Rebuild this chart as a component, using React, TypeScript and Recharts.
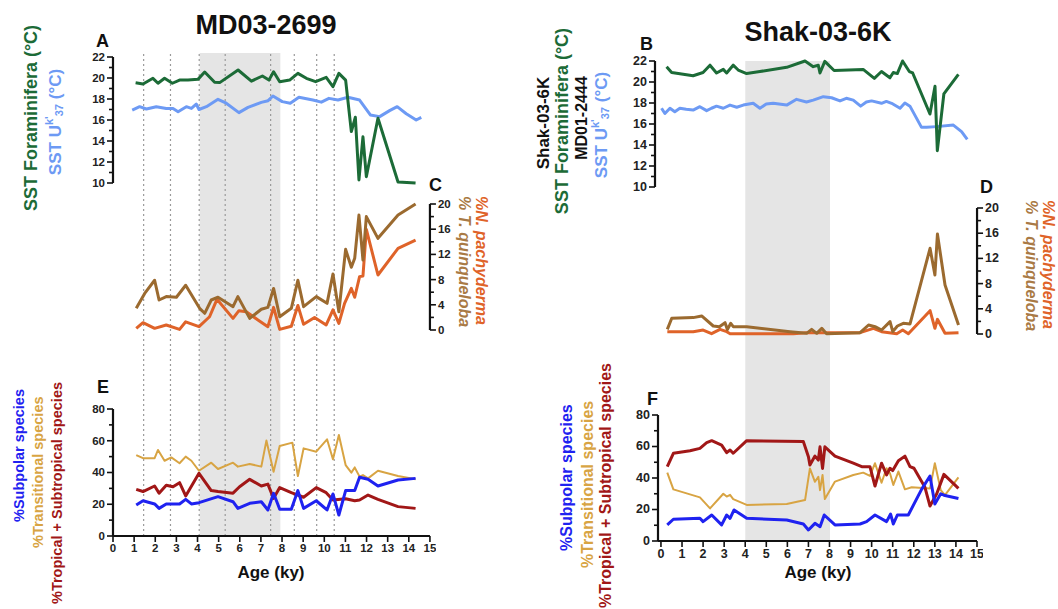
import React from 'react';
import { LineChart, Line, XAxis, YAxis, ReferenceArea, ReferenceLine } from 'recharts';

const FONT = '"Liberation Sans", Arial, Helvetica, sans-serif';

// ---------------- DATA ----------------
// MD03-2699 (left column)
const mdForamAge = [1.07, 1.42, 1.89, 2.13, 2.44, 2.81, 3.15, 3.55, 4.02, 4.34, 4.81, 5.05, 5.92, 6.55, 7.07, 7.38, 7.6, 7.89, 8.36, 8.75, 9.15, 9.59, 10.09, 10.41, 10.69, 11.01, 11.28, 11.47, 11.64, 11.83, 11.99, 12.54, 13.49, 14.32];
const mdForamSst = [19.55, 19.43, 19.97, 19.5, 19.97, 19.5, 19.8, 19.8, 19.87, 20.57, 19.59, 19.56, 20.76, 19.7, 20.19, 19.8, 20.6, 19.65, 19.8, 20.44, 19.97, 19.65, 20.06, 19.17, 20.44, 19.8, 14.9, 16.26, 10.29, 14.4, 10.6, 16.16, 10.1, 10.0];
const mdUkAge = [0.91, 1.26, 1.58, 2.05, 2.52, 2.84, 3.08, 3.47, 3.71, 3.94, 4.07, 4.42, 4.97, 5.36, 5.96, 6.39, 7.02, 7.34, 7.57, 8.01, 8.39, 8.8, 9.46, 9.86, 10.22, 10.65, 11.12, 11.67, 12.18, 12.62, 13.09, 13.45, 13.88, 14.35, 14.59];
const mdUkSst = [16.95, 17.27, 17.05, 17.27, 17.1, 17.1, 16.79, 17.27, 17.1, 17.52, 17.0, 17.27, 17.97, 17.6, 16.7, 17.2, 17.68, 17.84, 18.29, 17.75, 17.6, 18.16, 17.9, 17.7, 18.06, 17.9, 18.16, 17.9, 16.48, 16.32, 16.89, 17.27, 16.6, 16.0, 16.25];
const mdTquinAge = [1.1, 1.5, 1.97, 2.18, 2.52, 3.0, 3.44, 4.1, 4.34, 4.65, 4.97, 5.68, 5.91, 6.47, 7.02, 7.33, 7.6, 7.89, 8.44, 8.75, 9.02, 9.62, 10.13, 10.41, 10.69, 11.01, 11.28, 11.44, 11.64, 11.83, 11.99, 12.54, 13.49, 14.32];
const mdTquin = [3.44, 5.8, 7.9, 4.76, 5.3, 5.2, 7.1, 3.44, 2.65, 4.76, 5.2, 3.7, 5.3, 1.85, 3.3, 3.6, 6.6, 2.1, 3.44, 7.9, 3.7, 5.3, 4.23, 8.9, 2.9, 12.8, 9.95, 11.4, 18.25, 11.1, 18.0, 14.55, 18.25, 20.0];
const mdNpachAge = [1.1, 1.42, 1.97, 2.52, 3.15, 3.44, 4.07, 4.57, 4.92, 5.68, 5.96, 6.31, 6.86, 7.33, 7.6, 7.89, 8.44, 8.75, 9.02, 9.54, 10.09, 10.41, 10.69, 10.96, 11.28, 11.44, 11.67, 11.83, 11.99, 12.54, 13.49, 14.32];
const mdNpach = [0.26, 1.16, 0.26, 0.8, 0.1, 1.3, 0.53, 2.1, 4.87, 1.85, 3.07, 2.9, 1.6, 0.53, 3.6, 0.1, 0.6, 3.9, 0.9, 2.0, 0.8, 3.2, 1.06, 4.23, 6.6, 5.2, 8.47, 8.57, 15.97, 8.73, 12.96, 14.28];
const mdTransAge = [1.1, 1.42, 1.97, 2.13, 2.44, 2.76, 3.15, 3.44, 3.71, 4.07, 4.65, 4.97, 5.68, 5.91, 6.47, 7.02, 7.26, 7.6, 7.89, 8.49, 8.75, 9.02, 9.62, 10.13, 10.41, 10.69, 11.01, 11.28, 11.44, 11.67, 11.83, 12.07, 12.54, 13.49, 14.32];
const mdTrans = [51.0, 49, 49, 54.2, 47.4, 49.5, 45.8, 50, 47.4, 41.1, 46.2, 42.2, 46.2, 43.7, 45.4, 43.7, 60.1, 40.5, 56.7, 58.8, 37.8, 55.2, 53.1, 60.9, 48.3, 63.6, 44.7, 39.9, 43.2, 37.4, 38.4, 36.3, 41.1, 37.8, 35.7];
const mdTropAge = [1.1, 1.42, 1.97, 2.18, 2.52, 2.84, 3.15, 3.44, 4.07, 4.65, 4.97, 5.68, 5.99, 6.47, 7.02, 7.33, 7.6, 7.89, 8.44, 9.02, 9.62, 10.09, 10.41, 11.01, 11.44, 11.67, 12.07, 12.54, 13.49, 14.32];
const mdTrop = [29.4, 28, 31.5, 27, 32, 31, 33.6, 25.2, 39.5, 28.6, 28, 27, 31, 35.7, 31.5, 32.7, 23.7, 30.5, 27.3, 24.4, 30.5, 27.3, 22.7, 23.5, 22.2, 22.7, 25.8, 23.1, 18.5, 17.4];
const mdSubpAge = [1.1, 1.42, 1.97, 2.18, 2.52, 3.15, 3.44, 3.71, 4.07, 4.97, 5.68, 5.91, 6.47, 7.02, 7.33, 7.6, 7.89, 8.44, 8.75, 9.02, 9.62, 10.13, 10.41, 10.69, 11.01, 11.44, 11.67, 12.07, 12.54, 13.49, 14.32];
const mdSubp = [19.5, 22.2, 20.2, 17.4, 20.2, 20.2, 23.1, 20.2, 21, 24.8, 21.6, 17.4, 20.6, 21.6, 16.4, 26.9, 16.8, 16.8, 28.6, 17.4, 22.2, 16.4, 26.5, 13.2, 28.6, 28.6, 37, 35.7, 31.5, 35.3, 36.3];
const mdDashedAges = [1.45, 2.72, 4.08, 5.31, 7.46, 8.58, 9.64, 10.47];
const mdBand = [4.1, 7.92];

// Shak-03-6K / MD01-2444 (right column)
const shForamAge = [0.27, 0.51, 1.53, 2.0, 2.33, 2.64, 2.96, 3.12, 3.43, 3.67, 4.07, 4.7, 5.97, 6.84, 7.23, 7.47, 7.55, 7.78, 8.22, 9.6, 10.13, 10.47, 10.87, 11.03, 11.22, 11.47, 11.79, 11.95, 12.77, 13.01, 13.12, 13.43, 14.12];
const shForamSst = [21.46, 20.9, 20.6, 20.9, 21.6, 20.86, 21.2, 20.86, 21.6, 21.14, 20.8, 21.0, 21.4, 22.0, 21.46, 21.6, 20.86, 21.97, 21.1, 21.2, 20.35, 21.0, 20.4, 20.9, 20.8, 22.0, 21.0, 20.86, 16.95, 19.6, 13.46, 18.86, 20.73];
const shUkAge = [0.03, 0.19, 0.43, 0.66, 0.9, 1.2, 1.53, 1.85, 2.17, 2.4, 2.64, 2.96, 3.28, 3.6, 3.91, 4.38, 4.7, 5.0, 5.33, 5.97, 6.44, 6.91, 7.23, 7.71, 8.1, 8.5, 8.8, 9.13, 9.48, 9.75, 10.0, 10.47, 10.7, 10.95, 11.35, 11.58, 11.82, 12.37, 12.61, 13.09, 13.88, 14.27, 14.54];
const shUkSst = [17.5, 17.0, 17.5, 17.17, 17.5, 17.4, 17.33, 17.65, 17.27, 17.5, 17.7, 17.5, 17.8, 17.6, 17.8, 17.97, 17.5, 17.9, 17.97, 17.8, 18.35, 18.1, 18.27, 18.6, 18.5, 18.2, 18.45, 18.27, 17.7, 18.1, 18.2, 17.97, 18.15, 17.97, 17.5, 18.0, 17.7, 15.68, 15.68, 15.75, 15.9, 15.27, 14.54];
const shTquinAge = [0.3, 0.51, 1.53, 1.93, 2.48, 2.77, 3.04, 3.15, 3.31, 3.43, 4.07, 6.12, 6.91, 7.15, 7.39, 7.63, 7.86, 9.45, 9.85, 10.16, 10.47, 10.87, 11.0, 11.22, 11.5, 11.82, 12.77, 13.0, 13.12, 13.48, 14.12];
const shTquin = [0.74, 2.49, 2.6, 2.86, 1.27, 1.16, 1.8, 0.7, 1.7, 1.16, 1.16, 0.37, 0.11, 0.74, 0.11, 0.9, 0.05, 0.21, 1.43, 1.16, 0.63, 1.96, 0.37, 1.27, 1.7, 1.6, 13.6, 9.37, 15.87, 7.78, 1.43];
const shNpachAge = [0.3, 1.53, 2.0, 2.4, 2.8, 3.12, 3.28, 6.28, 6.91, 7.86, 9.45, 10.08, 10.47, 11.19, 11.47, 11.74, 12.77, 13.0, 13.12, 13.48, 14.12];
const shNpach = [0.37, 0.37, 0.63, 0.05, 0.74, 0.37, 0.05, 0.05, 0.21, 0.21, 0.21, 0.9, 0.37, 0.05, 0.63, 0.05, 3.7, 0.9, 2.33, 0.11, 0.21];
const shTropAge = [0.3, 0.59, 1.38, 1.85, 2.17, 2.41, 2.88, 3.12, 3.28, 3.43, 4.07, 6.76, 7.0, 7.07, 7.31, 7.47, 7.55, 7.67, 7.78, 8.26, 9.13, 9.53, 9.92, 10.16, 10.47, 10.71, 10.87, 11.0, 11.27, 11.58, 11.82, 12.01, 12.53, 12.77, 13.09, 13.43, 14.12];
const shTrop = [47.2, 55.7, 57.3, 58.8, 62.4, 63.7, 60.9, 56.1, 57.8, 55.7, 63.7, 63.1, 53.5, 48.3, 53.9, 51.4, 59.8, 46.1, 59.8, 53.9, 49.4, 47.2, 47.2, 34.9, 49.4, 42, 46.2, 44.7, 51, 53.9, 47.2, 46.2, 34.1, 22.2, 30, 42.3, 33.4];
const shTransAge = [0.3, 0.59, 1.85, 2.33, 2.96, 3.12, 3.28, 3.43, 4.07, 5.97, 6.84, 7.07, 7.31, 7.47, 7.55, 7.67, 7.78, 8.26, 9.13, 9.6, 9.92, 10.16, 10.47, 10.71, 10.87, 11.03, 11.27, 11.58, 11.9, 12.77, 13.0, 13.28, 13.48, 14.12];
const shTrans = [43.4, 32.8, 27.7, 20.7, 30, 28.2, 29.3, 26.6, 22.9, 23.5, 26, 46.1, 37.6, 40.8, 32.3, 41.9, 26.6, 37.7, 41.9, 43.4, 41.3, 49.4, 37, 46.2, 43, 35.6, 44.1, 32.8, 34.1, 33.4, 49.4, 32.3, 29.1, 40.4];
const shSubpAge = [0.3, 0.59, 1.85, 2.0, 2.41, 2.88, 3.12, 3.28, 3.47, 4.07, 5.97, 6.76, 7.0, 7.31, 7.55, 7.75, 8.26, 9.45, 9.76, 10.16, 10.71, 10.9, 11.03, 11.22, 11.74, 12.37, 12.77, 13.0, 13.28, 13.43, 14.12];
const shSubp = [10.2, 13.8, 14.4, 12.3, 16.5, 10.2, 16.5, 14.4, 19.7, 14.4, 13.3, 10.8, 7.0, 11.2, 9.1, 16.5, 10.2, 10.8, 12.3, 16.5, 12.3, 17.1, 10.8, 16.5, 16.5, 32.8, 41.3, 23.5, 30, 29.1, 27];
const shBand = [4.0, 8.02];

// Axis ticks
const ageTicks = [0, 1, 2, 3, 4, 5, 6, 7, 8, 9, 10, 11, 12, 13, 14, 15];
const sstTicks = [10, 11, 12, 13, 14, 15, 16, 17, 18, 19, 20, 21, 22];
const sstLabels = [10, 12, 14, 16, 18, 20, 22];
const pctTicks = [0, 2, 4, 6, 8, 10, 12, 14, 16, 18, 20];
const pctLabels = [0, 4, 8, 12, 16, 20];
const spTicks = [0, 10, 20, 30, 40, 50, 60, 70, 80];
const spLabels = [0, 20, 40, 60, 80];

// ---------------- STYLE ----------------
const COL = {
  green: '#1c6b37',
  sky: '#6d9af4',
  brown: '#9b6a2f',
  orange: '#df6329',
  gold: '#d8a443',
  red: '#a11717',
  blue: '#1f22f0',
  axis: '#111111',
  tick: '#222222',
};

const zip = (a: number[], b: number[]) => a.map((x, i) => ({ x, y: b[i] }));

type Series = { pts: { x: number; y: number }[]; color: string; w: number; name: string };

const makeYTick = (side: 'left' | 'right', labels: number[], fs: number) => (props: any) => {
  const { x, y, payload } = props;
  const v = payload.value;
  const major = labels.includes(v);
  const len = major ? 6 : 4;
  const dir = side === 'left' ? -1 : 1;
  return (
    <g>
      <line x1={x} y1={y} x2={x + dir * len} y2={y} stroke={COL.axis} strokeWidth={1.6} />
      {major && (
        <text
          x={x + dir * 8}
          y={y}
          textAnchor={side === 'left' ? 'end' : 'start'}
          dominantBaseline="central"
          fontSize={fs}
          fontWeight="bold"
          fill={COL.tick}
          fontFamily={FONT}
        >
          {v}
        </text>
      )}
    </g>
  );
};

const makeXTick = (fs: number) => (props: any) => {
  const { x, y, payload } = props;
  return (
    <g>
      <line x1={x} y1={y} x2={x} y2={y + 6} stroke={COL.axis} strokeWidth={1.6} />
      <text x={x} y={y + 8} textAnchor="middle" dominantBaseline="hanging" fontSize={fs} fontWeight="bold" fill={COL.tick} fontFamily={FONT}>
        {payload.value}
      </text>
    </g>
  );
};

type PanelProps = {
  x0: number; k: number; xMin: number; xMax: number;
  yTop: number; yBot: number; yMin: number; yMax: number;
  yTicks: number[]; yLabels: number[]; side: 'left' | 'right';
  showX?: boolean; series: Series[]; fs: number;
};

function Panel(p: PanelProps) {
  const AX = 40;
  const pad = 6;
  const XH = 30;
  const plotL = p.x0 + p.xMin * p.k;
  const plotR = p.x0 + p.xMax * p.k;
  const left = p.side === 'left' ? plotL - AX - pad : plotL - pad;
  const right = p.side === 'right' ? plotR + AX + pad : plotR + pad;
  const top = p.yTop - pad;
  const bottom = p.yBot + (p.showX ? XH : 0) + pad;
  return (
    <div style={{ position: 'absolute', left, top }}>
      <LineChart width={right - left} height={bottom - top} margin={{ top: pad, right: pad, bottom: pad, left: pad }}>
        <XAxis
          type="number"
          dataKey="x"
          domain={[p.xMin, p.xMax]}
          ticks={ageTicks}
          interval={0}
          hide={!p.showX}
          height={XH}
          tickLine={false}
          tickSize={0}
          tickMargin={0}
          tick={makeXTick(p.fs)}
          axisLine={{ stroke: COL.axis, strokeWidth: 2.2 }}
        />
        <YAxis
          type="number"
          orientation={p.side}
          width={AX}
          domain={[p.yMin, p.yMax]}
          ticks={p.yTicks}
          interval={0}
          tickLine={false}
          tickSize={0}
          tickMargin={0}
          tick={makeYTick(p.side, p.yLabels, p.fs)}
          axisLine={{ stroke: COL.axis, strokeWidth: 2.2 }}
        />
        {p.series.map((s) => (
          <Line
            key={s.name}
            name={s.name}
            data={s.pts}
            dataKey="y"
            type="linear"
            stroke={s.color}
            strokeWidth={s.w}
            strokeLinejoin="round"
            dot={false}
            activeDot={false}
            isAnimationActive={false}
          />
        ))}
      </LineChart>
    </div>
  );
}

function Backdrop(p: { x0: number; k: number; yTop: number; yBot: number; band: number[]; dashes: number[] }) {
  const left = p.x0;
  const width = 15 * p.k;
  return (
    <div style={{ position: 'absolute', left, top: p.yTop }}>
      <LineChart width={width} height={p.yBot - p.yTop} margin={{ top: 0, right: 0, bottom: 0, left: 0 }}>
        <XAxis type="number" dataKey="x" domain={[0, 15]} hide />
        <YAxis type="number" domain={[0, 1]} hide />
        <ReferenceArea x1={p.band[0]} x2={p.band[1]} fill="#e5e5e5" fillOpacity={1} stroke="none" />
        {p.dashes.map((d) => (
          <ReferenceLine key={d} x={d} stroke="#9a9a9a" strokeWidth={1.2} strokeDasharray="2 3" />
        ))}
        <Line data={[{ x: 0, y: 0 }, { x: 15, y: 1 }]} dataKey="y" stroke="none" dot={false} activeDot={false} isAnimationActive={false} />
      </LineChart>
    </div>
  );
}

const T = (props: any) => {
  const { x, y, rot = 0, anchor = 'middle', size = 14, color = '#111', children, baseline = 'central', italic } = props;
  return (
    <text
      x={x}
      y={y}
      transform={rot ? `rotate(${rot} ${x} ${y})` : undefined}
      textAnchor={anchor}
      dominantBaseline={baseline}
      fontSize={size}
      fontWeight="bold"
      fontStyle={italic ? 'italic' : 'normal'}
      fill={color}
      fontFamily={FONT}
    >
      {children}
    </text>
  );
};

const UkLabel = ({ x, y, size = 16 }: { x: number; y: number; size?: number }) => (
  <text x={x} y={y} transform={`rotate(-90 ${x} ${y})`} textAnchor="middle" dominantBaseline="central" fontSize={size} fontWeight="bold" fill={COL.sky} fontFamily={FONT}>
    SST U
    <tspan fontSize={size * 0.65} dy={-6}>k'</tspan>
    <tspan fontSize={size * 0.65} dy={10}>37</tspan>
    <tspan dy={-4}> (°C)</tspan>
  </text>
);

export default function App() {
  const L = { x0: 113, k: 21.13 };
  const R = { x0: 661, k: 21.07 };
  return (
    <div style={{ position: 'absolute', left: 0, top: 0, width: 1058, height: 609, background: '#fff', overflow: 'hidden', fontFamily: FONT }}>
      <Backdrop x0={L.x0} k={L.k} yTop={53} yBot={536} band={mdBand} dashes={mdDashedAges} />
      <Backdrop x0={R.x0} k={R.k} yTop={61} yBot={541} band={shBand} dashes={[]} />

      {/* A */}
      <Panel {...L} xMin={0} xMax={15} yTop={57} yBot={183} yMin={10} yMax={22} yTicks={sstTicks} yLabels={sstLabels} side="left" fs={11.5}
        series={[
          { name: 'mdUk', pts: zip(mdUkAge, mdUkSst), color: COL.sky, w: 3 },
          { name: 'mdForam', pts: zip(mdForamAge, mdForamSst), color: COL.green, w: 3 },
        ]} />
      {/* C */}
      <Panel {...L} xMin={0} xMax={15} yTop={204} yBot={330} yMin={0} yMax={20} yTicks={pctTicks} yLabels={pctLabels} side="right" fs={11.5}
        series={[
          { name: 'mdNpach', pts: zip(mdNpachAge, mdNpach), color: COL.orange, w: 3 },
          { name: 'mdTquin', pts: zip(mdTquinAge, mdTquin), color: COL.brown, w: 3 },
        ]} />
      {/* E */}
      <Panel {...L} xMin={0} xMax={15} yTop={409} yBot={536} yMin={0} yMax={80} yTicks={spTicks} yLabels={spLabels} side="left" showX fs={11.5}
        series={[
          { name: 'mdTrans', pts: zip(mdTransAge, mdTrans), color: COL.gold, w: 2 },
          { name: 'mdTrop', pts: zip(mdTropAge, mdTrop), color: COL.red, w: 3 },
          { name: 'mdSubp', pts: zip(mdSubpAge, mdSubp), color: COL.blue, w: 3 },
        ]} />

      {/* B */}
      <Panel {...R} xMin={-0.28} xMax={15} yTop={61} yBot={187} yMin={10} yMax={22} yTicks={sstTicks} yLabels={sstLabels} side="left" fs={12.5}
        series={[
          { name: 'shUk', pts: zip(shUkAge, shUkSst), color: COL.sky, w: 3 },
          { name: 'shForam', pts: zip(shForamAge, shForamSst), color: COL.green, w: 3 },
        ]} />
      {/* D */}
      <Panel {...R} xMin={0} xMax={15} yTop={208} yBot={334} yMin={0} yMax={20} yTicks={pctTicks} yLabels={pctLabels} side="right" fs={12.5}
        series={[
          { name: 'shNpach', pts: zip(shNpachAge, shNpach), color: COL.orange, w: 3 },
          { name: 'shTquin', pts: zip(shTquinAge, shTquin), color: COL.brown, w: 3 },
        ]} />
      {/* F */}
      <Panel {...R} xMin={-0.14} xMax={15} yTop={415} yBot={541} yMin={0} yMax={80} yTicks={spTicks} yLabels={spLabels} side="left" showX fs={12.5}
        series={[
          { name: 'shTrans', pts: zip(shTransAge, shTrans), color: COL.gold, w: 2 },
          { name: 'shTrop', pts: zip(shTropAge, shTrop), color: COL.red, w: 3 },
          { name: 'shSubp', pts: zip(shSubpAge, shSubp), color: COL.blue, w: 3 },
        ]} />

      <svg width={1058} height={609} style={{ position: 'absolute', left: 0, top: 0, pointerEvents: 'none' }}>
        {/* titles */}
        <T x={266} y={34} size={27} baseline="auto">MD03-2699</T>
        <T x={818} y={41} size={27} baseline="auto">Shak-03-6K</T>
        {/* panel letters */}
        <T x={96} y={47} size={18} anchor="start" baseline="auto">A</T>
        <T x={640} y={50} size={18} anchor="start" baseline="auto">B</T>
        <T x={429} y={191} size={18} anchor="start" baseline="auto">C</T>
        <T x={980} y={193} size={18} anchor="start" baseline="auto">D</T>
        <T x={97} y={393} size={18} anchor="start" baseline="auto">E</T>
        <T x={647} y={405} size={18} anchor="start" baseline="auto">F</T>

        {/* left SST labels */}
        <T x={31} y={118} rot={-90} size={18} color={COL.green}>SST Foraminifera (°C)</T>
        <UkLabel x={55} y={122} size={17} />
        {/* right SST labels */}
        <T x={543} y={123} rot={-90} size={17} color="#111">Shak-03-6K</T>
        <T x={562} y={121} rot={-90} size={18} color={COL.green}>SST Foraminifera (°C)</T>
        <T x={581} y={118} rot={-90} size={16} color="#111">MD01-2444</T>
        <UkLabel x={601} y={125} size={17} />

        {/* C labels */}
        <T x={464} y={196} rot={90} size={16} anchor="start" color="#a97a45" italic>% T. quinqueloba</T>
        <T x={481} y={196} rot={90} size={16} anchor="start" color={COL.orange} italic>%N. pachyderma</T>
        {/* D labels */}
        <T x={1031} y={200} rot={90} size={16} anchor="start" color="#a97a45" italic>% T. quinqueloba</T>
        <T x={1048} y={200} rot={90} size={16} anchor="start" color={COL.orange} italic>%N. pachyderma</T>

        {/* E labels */}
        <T x={19} y={522} rot={-90} size={14.5} anchor="start" color={COL.blue}>%Subpolar species</T>
        <T x={38} y={548} rot={-90} size={14.5} anchor="start" color={COL.gold}>%Transitional species</T>
        <T x={57} y={604} rot={-90} size={14.5} anchor="start" color={COL.red}>%Tropical + Subtropical species</T>
        {/* F labels */}
        <T x={566} y={551} rot={-90} size={16} anchor="start" color={COL.blue}>%Subpolar species</T>
        <T x={587} y={568} rot={-90} size={16} anchor="start" color={COL.gold}>%Transitional species</T>
        <T x={605} y={608} rot={-90} size={16} anchor="start" color={COL.red}>%Tropical + Subtropical species</T>

        {/* x axis titles */}
        <T x={271} y={578} size={17} baseline="auto">Age (ky)</T>
        <T x={818} y={578} size={17} baseline="auto">Age (ky)</T>
      </svg>
    </div>
  );
}
